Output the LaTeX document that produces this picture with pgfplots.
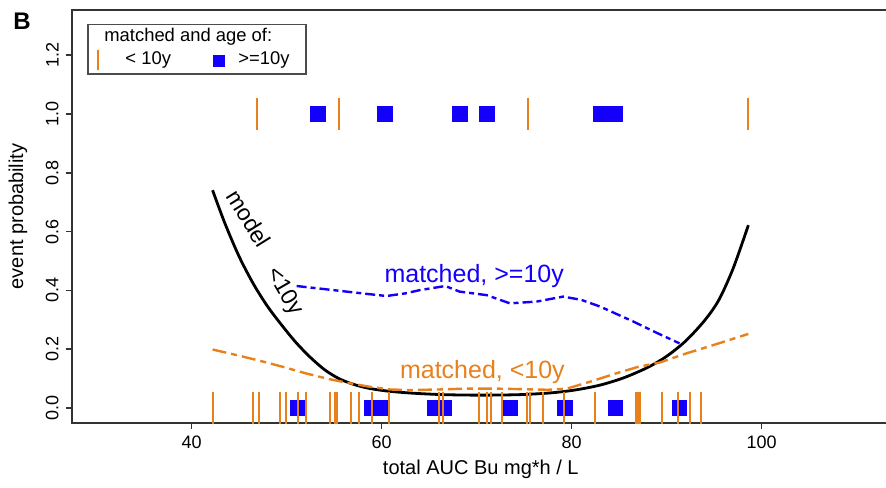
\documentclass[border=0pt]{standalone}
\usepackage{fontspec}
\setmainfont{Liberation Sans}
\usepackage{pgfplots}
\usepackage{pgfplotstable}
\pgfplotsset{compat=1.18}

\definecolor{orng}{RGB}{232,128,28}
\definecolor{blu}{RGB}{20,0,250}

% rug marks, events at 1, non-events at 0
\pgfplotstableread{
x y
46.87 1
55.50 1
75.40 1
98.60 1
42.21 0
46.48 0
47.05 0
49.29 0
49.93 0
51.16 0
52.00 0
54.53 0
55.12 0
55.33 0
56.77 0
57.64 0
59.01 0
60.77 0
66.03 0
66.48 0
70.24 0
71.05 0
71.51 0
72.63 0
75.26 0
75.61 0
76.95 0
79.22 0
82.45 0
86.77 0
86.98 0
87.19 0
89.47 0
91.16 0
92.45 0
93.60 0
}\younger

\pgfplotstableread{
x y
53.30 1
60.35 1
68.20 1
71.05 1
83.10 1
84.60 1
51.16 0
58.98 0
60.03 0
65.56 0
66.61 0
73.50 0
79.30 0
84.60 0
91.35 0
}\older

\pgfplotstableread{
x y
42.2 0.741
43.5 0.628
45.0 0.515
46.5 0.422
48.0 0.345
49.6 0.277
51.0 0.222
52.5 0.172
54.0 0.130
55.5 0.100
57.0 0.081
58.5 0.068
60.5 0.058
63.0 0.051
66.0 0.046
69.0 0.044
72.0 0.044
75.0 0.046
78.0 0.052
80.5 0.062
83.0 0.078
85.5 0.103
88.0 0.138
90.0 0.176
92.0 0.228
94.0 0.298
95.5 0.368
97.0 0.475
98.6 0.622
}\model

\pgfplotstableread{
x y
51.05 0.415
53.00 0.408
56.30 0.396
58.50 0.388
60.50 0.381
62.50 0.390
64.00 0.401
66.70 0.415
68.20 0.396
71.05 0.384
73.50 0.356
76.30 0.362
79.10 0.379
81.00 0.368
83.00 0.345
86.50 0.294
89.00 0.255
91.35 0.220
}\matchedold

\pgfplotstableread{
x y
42.2 0.199
45.0 0.178
47.5 0.158
49.6 0.140
52.0 0.118
54.5 0.098
56.7 0.084
58.8 0.072
60.9 0.063
63.0 0.061
66.0 0.063
69.0 0.066
72.0 0.066
75.0 0.064
77.5 0.062
79.5 0.066
82.0 0.090
84.7 0.118
87.0 0.140
89.3 0.155
92.0 0.185
95.0 0.215
98.6 0.252
}\matchedyoung

\begin{document}
\begin{tikzpicture}
\useasboundingbox (-35.85pt,-32.15pt) rectangle (407.15pt,211.35pt);
\begin{axis}[
    at={(0pt,0pt)}, anchor=south west,
    scale only axis,
    width=409.1pt, height=206.35pt,
    xmin=27.37, xmax=113.5,
    ymin=-0.05, ymax=1.354,
    clip=false,
    axis line style={line width=1pt, black!80},
    tick align=outside,
    major tick length=3pt,
    tick style={line width=0.8pt, black!80},
    xtick pos=left, ytick pos=left,
    xtick={40,60,80,100},
    xticklabels={40,60,80,100},
    ytick={0,0.2,0.4,0.6,0.8,1.0,1.2},
    yticklabels={0.0,0.2,0.4,0.6,0.8,1.0,1.2},
    tick label style={font=\fontsize{9}{10}\selectfont},
    yticklabel style={rotate=90, anchor=south},
    xlabel={total AUC Bu mg*h / L},
    ylabel={event probability},
    label style={font=\fontsize{10}{11}\selectfont},
    xlabel style={at={(axis description cs:0.5,-0.112)}, anchor=center},
    ylabel style={at={(axis description cs:-0.0656,0.5)}, anchor=center},
]
\addplot[blu, only marks, mark=square*, mark size=3.7pt,
    mark options={draw=none, fill=blu}] table {\older};
\addplot[orng, only marks, mark=|, mark size=7.8pt,
    mark options={draw=orng, line width=1pt}] table {\younger};

\addplot[black, line width=1.4pt, smooth] table {\model};
\addplot[blu, line width=1.2pt, dash pattern=on 5pt off 2pt on 2.5pt off 2pt] table {\matchedold};
\addplot[orng, line width=1.2pt, dash pattern=on 7pt off 2.5pt on 3pt off 2.5pt] table {\matchedyoung};

% curve labels
\node[rotate=-58, font=\fontsize{11.5}{13}\selectfont] at (axis cs:46.0,0.645) {model};
\node[rotate=-60, font=\fontsize{11.5}{13}\selectfont] at (axis cs:49.75,0.395) {<10y};
\node[blu, font=\fontsize{12.5}{14}\selectfont] at (axis cs:69.74,0.449) {matched, >=10y};
\node[orng, font=\fontsize{12.5}{14}\selectfont] at (axis cs:70.6,0.122) {matched, <10y};

% legend
\draw[black!70, line width=0.6pt] (axis cs:29.08,1.306) rectangle (axis cs:52.03,1.136);
\begin{scope}[every node/.style={font=\fontsize{9.2}{11}\selectfont, inner sep=0pt}]
\node[anchor=base west] at (axis cs:30.77,1.248) {matched and age of:};
\node at (axis cs:30.19,1.184) {\textcolor{orng}{\rule{1pt}{10pt}}};
\node[anchor=base west] at (axis cs:32.99,1.167) {< 10y};
\node at (axis cs:42.87,1.18) {\textcolor{blu}{\rule{6pt}{6pt}}};
\node[anchor=base west] at (axis cs:44.87,1.167) {>=10y};
\end{scope}

\node[font=\bfseries\fontsize{12}{14}\selectfont] at (axis cs:22.14,1.315) {B};
\end{axis}
\end{tikzpicture}
\end{document}
